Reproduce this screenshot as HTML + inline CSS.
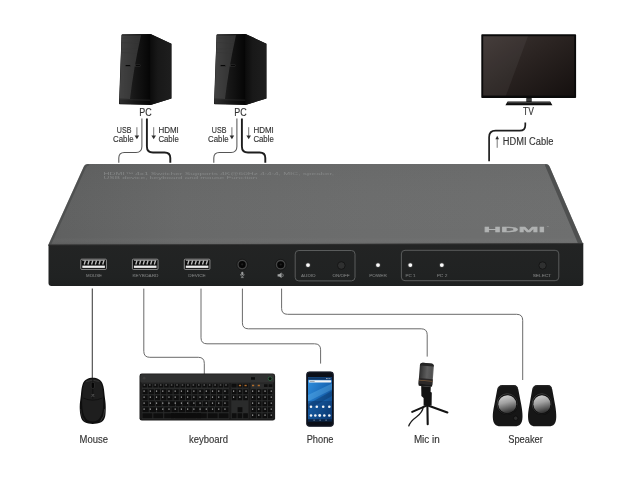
<!DOCTYPE html>
<html lang="en">
<head>
<meta charset="utf-8">
<title>HDMI 4x1 KVM Switcher connection diagram</title>
<style>
html,body{margin:0;padding:0;background:#fff;width:640px;height:480px;overflow:hidden}
svg{display:block;position:absolute;left:0;top:0;will-change:transform}
text{font-family:"Liberation Sans",sans-serif;}
.lbl{font-size:10.4px;fill:#343434;stroke:#343434;stroke-width:0.15px}
.tiny{font-size:4.3px;fill:#747676;stroke:#747676;stroke-width:0.12px}
.cab{fill:none;stroke:#555;stroke-width:0.95;stroke-linecap:butt;stroke-linejoin:round}
.cabh{fill:none;stroke:#1e1e1e;stroke-width:1.9;stroke-linejoin:round}
</style>
</head>
<body>
<svg width="640" height="480" viewBox="0 0 640 480">
<defs>
  <linearGradient id="gTop" x1="0" y1="0" x2="1" y2="0">
    <stop offset="0" stop-color="#5f6060"/>
    <stop offset="0.25" stop-color="#686969"/>
    <stop offset="0.6" stop-color="#6c6d6d"/>
    <stop offset="1" stop-color="#6e6f6f"/>
  </linearGradient>
  <linearGradient id="gTopV" x1="0" y1="0" x2="0" y2="1">
    <stop offset="0" stop-color="#000" stop-opacity="0.03"/>
    <stop offset="0.9" stop-color="#fff" stop-opacity="0.0"/>
    <stop offset="1" stop-color="#000" stop-opacity="0.12"/>
  </linearGradient>
  <linearGradient id="gFront" x1="0" y1="0" x2="0" y2="1">
    <stop offset="0" stop-color="#232424"/>
    <stop offset="0.8" stop-color="#202222"/>
    <stop offset="1" stop-color="#1e2020"/>
  </linearGradient>
  <linearGradient id="gPcF" x1="0" y1="0" x2="1" y2="0">
    <stop offset="0" stop-color="#2e2e2e"/>
    <stop offset="0.5" stop-color="#161616"/>
    <stop offset="1" stop-color="#050505"/>
  </linearGradient>
  <linearGradient id="gPcS" x1="0" y1="0" x2="1" y2="0">
    <stop offset="0" stop-color="#0c0c0c"/>
    <stop offset="0.35" stop-color="#181818"/>
    <stop offset="1" stop-color="#1e1e1e"/>
  </linearGradient>
  <linearGradient id="gTv" x1="0" y1="0" x2="1" y2="1">
    <stop offset="0" stop-color="#3b3331"/>
    <stop offset="0.45" stop-color="#2a2321"/>
    <stop offset="1" stop-color="#15100f"/>
  </linearGradient>
  <linearGradient id="gPhone" x1="0" y1="0" x2="1" y2="1">
    <stop offset="0" stop-color="#3192e2"/>
    <stop offset="0.45" stop-color="#1b6cba"/>
    <stop offset="1" stop-color="#0c3d78"/>
  </linearGradient>
  <linearGradient id="gCone" x1="0.35" y1="0" x2="0.6" y2="1">
    <stop offset="0" stop-color="#cfcfcf"/>
    <stop offset="0.4" stop-color="#a2a2a2"/>
    <stop offset="0.75" stop-color="#5c5c5c"/>
    <stop offset="1" stop-color="#2a2a2a"/>
  </linearGradient>
  <linearGradient id="gRing" x1="0" y1="0" x2="0.6" y2="1">
    <stop offset="0" stop-color="#5a5a5a"/>
    <stop offset="1" stop-color="#1c1c1c"/>
  </linearGradient>
  <linearGradient id="gMic" x1="0" y1="0" x2="1" y2="0">
    <stop offset="0" stop-color="#2e2e2e"/>
    <stop offset="0.55" stop-color="#5f5f5f"/>
    <stop offset="0.9" stop-color="#505050"/>
    <stop offset="1" stop-color="#6c6c6c"/>
  </linearGradient>

  <!-- PC tower symbol, origin = top-left of front face (121.6,34) -->
  <g id="pc">
    <path d="M2.6,0.8 Q2.7,0.2 3.4,0.2 L31.5,0 L52.4,9.7 L52.4,64.4 L31.5,71 L0.8,70.2 Q0,70.2 0,69.4 Z" fill="#0b0b0b"/>
    <path d="M2.6,1 L31.2,0.6 L31.2,70.6 L0.4,69.8 Z" fill="url(#gPcF)"/>
    <path d="M31.5,0 L52.4,9.7 L52.4,64.4 L31.5,71 Z" fill="url(#gPcS)"/>
    <path d="M2.8,1.5 L22,1.2 Q14.5,35 11,65 L0.5,64.6 Z" fill="#5a5a5a" opacity="0.45"/>
    <path d="M2.6,4.2 H21 M2.5,8.6 H20 M2.3,15.2 H18.6 M2.2,18.6 H18" stroke="#383838" stroke-width="0.45" fill="none"/>
    <rect x="6.3" y="30.9" width="5.2" height="1.5" fill="#040404" stroke="#4a4a4a" stroke-width="0.35"/>
    <rect x="16.7" y="30.9" width="5" height="1.5" fill="#040404" stroke="#4a4a4a" stroke-width="0.35"/>
    <path d="M0.6,65.5 L31.2,66.2" stroke="#333" stroke-width="0.6"/>
  </g>
  <!-- cable pair under a PC, origin at PC-label centre x=145 -->
  <g id="pccab">
    <path class="cab" d="M-3.1,118.6 V146.5 Q-3.1,152.5 -9,152.5 H-20.6 Q-26.2,152.5 -26.2,158 V162.8" style="stroke-width:1.05"/>
    <path class="cabh" d="M1.9,118.6 V146.5 Q1.9,152.5 8,152.5 H19.6 Q25.3,152.5 25.3,158 V162.8"/>
    <path d="M-8.1,127.2 V136" class="cab" style="stroke-width:0.8"/><path d="M-10.4,135.6 H-5.8 L-8.1,139.2 Z" fill="#2e2e2e"/>
    <path d="M8.7,127.2 V136" class="cab" style="stroke-width:0.8"/><path d="M6.4,135.6 H11 L8.7,139.2 Z" fill="#2e2e2e"/>
    <text class="lbl" x="-28.2" y="133" textLength="14.6" lengthAdjust="spacingAndGlyphs" style="font-size:8.8px">USB</text>
    <text class="lbl" x="-32" y="142.4" textLength="20.6" lengthAdjust="spacingAndGlyphs" style="font-size:8.8px">Cable</text>
    <text class="lbl" x="13.4" y="133" textLength="20.4" lengthAdjust="spacingAndGlyphs" style="font-size:8.8px">HDMI</text>
    <text class="lbl" x="13.4" y="142.4" textLength="20.4" lengthAdjust="spacingAndGlyphs" style="font-size:8.8px">Cable</text>
  </g>
  <!-- usb port symbol 26x11, origin top-left -->
  <g id="usb">
    <rect x="0" y="0.3" width="25.6" height="10.2" rx="0.9" fill="#0d0d0d" stroke="#a4a4a4" stroke-width="0.85"/>
    <rect x="1.5" y="6.7" width="22.6" height="2.3" fill="#ececec"/>
    <path d="M1.5,1.5 H24.1" stroke="#c8c8c8" stroke-width="0.7"/>
    <path d="M4.6,1.6 L3.4,5.6 M8.3,1.6 L7.1,5.6 M12,1.6 L10.8,5.6 M15.7,1.6 L14.5,5.6 M19.4,1.6 L18.2,5.6 M23.1,1.6 L21.9,5.6" stroke="#bdbdbd" stroke-width="1.35"/>
  </g>
</defs>

<rect x="0" y="0" width="640" height="480" fill="#ffffff"/>

<!-- ===== PCs ===== -->
<use href="#pc" x="119" y="34"/>
<use href="#pc" x="214" y="34"/>
<text class="lbl" x="139.2" y="115.7" textLength="12.4" lengthAdjust="spacingAndGlyphs">PC</text>
<text class="lbl" x="234.2" y="115.7" textLength="12.4" lengthAdjust="spacingAndGlyphs">PC</text>
<use href="#pccab" x="145" y="0"/>
<use href="#pccab" x="240" y="0"/>

<!-- ===== TV ===== -->
<g id="tv">
  <rect x="481.3" y="34.3" width="94.8" height="63.8" rx="0.8" fill="#0a0a0a"/>
  <rect x="483.2" y="36.2" width="91" height="59.4" fill="url(#gTv)"/>
  <path d="M483.2,36.2 H528 L506,95.6 H483.2 Z" fill="#fff" opacity="0.05"/>
  <rect x="526.3" y="98" width="5.4" height="4.4" fill="#2a2a2a"/>
  <path d="M526.3,99.4 H531.7 M526.3,100.8 H531.7" stroke="#555" stroke-width="0.5"/>
  <path d="M505.4,105.3 L507.6,101.5 H550.2 L552.4,105.3 Z" fill="#0c0c0c"/>
  <path d="M507.8,101.9 H550 L550.9,103.2 H507.1 Z" fill="#3c3c3c"/>
</g>
<text class="lbl" x="523" y="115.4" textLength="10.8" lengthAdjust="spacingAndGlyphs">TV</text>
<path class="cabh" d="M525.3,122.6 V125.2 Q525.3,130.7 519.8,130.7 H495.6 Q489.1,130.7 489.1,137.2 V161.2" style="stroke-width:1.7"/>
<path class="cab" d="M497.2,138.5 V147.8" style="stroke-width:0.8"/><path d="M495.4,139.2 H499 L497.2,135.8 Z" fill="#2a2a2a"/>
<text class="lbl" x="502.8" y="145.4" textLength="50.6" lengthAdjust="spacingAndGlyphs" style="font-size:10px">HDMI Cable</text>

<!-- ===== Switcher body ===== -->
<g id="device">
  <path d="M88,164 H545.6 Q548.6,164 549.8,167 L582.6,243 V246 H48.5 V244.5 L83.6,167 Q84.8,164 88,164 Z" fill="url(#gTop)"/>
  <path d="M88,164 H545.6 Q548.6,164 549.8,167 L582.6,243 V246 H48.5 V244.5 L83.6,167 Q84.8,164 88,164 Z" fill="url(#gTopV)"/>
  <path d="M545.6,164 Q548.6,164 549.8,167 L582.6,243 L578,243.4 L545,165.6 Z" fill="#3c3e3e" opacity="0.62"/>
  <path d="M88,164 Q84.8,164 83.6,167 L48.5,244.5 L51.2,244.5 L86,167.4 Q86.8,165.4 89.4,165.2 Z" fill="#3c3e3e" opacity="0.45"/>
  <path d="M48.5,244.7 L583.3,243.3 V283.3 Q583.3,285.9 580.6,285.9 H51.5 Q48.5,285.9 48.5,283 Z" fill="url(#gFront)"/>
  <path d="M48.5,245 L583.3,243.6" stroke="#363737" stroke-width="0.7"/>
  <text x="103.6" y="174.5" textLength="230.5" lengthAdjust="spacingAndGlyphs" style="font-size:4px;fill:#858787">HDMI™ 4x1 Switcher Supports 4K@60Hz 4:4:4, MIC, speaker,</text>
  <text x="103.6" y="179" textLength="153.5" lengthAdjust="spacingAndGlyphs" style="font-size:4px;fill:#858787">USB device, keyboard and mouse Function</text>
  <!-- HDMI logo -->
  <text x="483.6" y="232" textLength="61.6" lengthAdjust="spacingAndGlyphs" style="font-size:7.9px;font-weight:bold;fill:#b0b2b2;stroke:#b0b2b2;stroke-width:0.3px">HDMI</text>
  <text x="546.4" y="228.2" style="font-size:2.6px;fill:#a0a2a2">™</text>
</g>

<!-- ===== Front panel ===== -->
<g id="front">
  <use href="#usb" x="80.8" y="258.9"/>
  <use href="#usb" x="132.4" y="258.9"/>
  <use href="#usb" x="184.3" y="258.9"/>
  <text class="tiny" x="94" y="277.3" text-anchor="middle" textLength="15.8" lengthAdjust="spacingAndGlyphs">MOUSE</text>
  <text class="tiny" x="145.5" y="277.3" text-anchor="middle" textLength="26" lengthAdjust="spacingAndGlyphs">KEYBOARD</text>
  <text class="tiny" x="197" y="277.3" text-anchor="middle" textLength="17.5" lengthAdjust="spacingAndGlyphs">DEVICE</text>
  <!-- jacks -->
  <circle cx="242.2" cy="264.6" r="4.3" fill="#060606" stroke="#444545" stroke-width="1.5"/>
  <circle cx="242.2" cy="264.6" r="5.4" fill="none" stroke="#141414" stroke-width="0.7"/>
  <circle cx="242.2" cy="264.4" r="1.1" fill="#1d1d1d"/>
  <circle cx="280.7" cy="264.7" r="4.3" fill="#060606" stroke="#444545" stroke-width="1.5"/>
  <circle cx="280.7" cy="264.7" r="5.4" fill="none" stroke="#141414" stroke-width="0.7"/>
  <circle cx="280.7" cy="264.5" r="1.1" fill="#1d1d1d"/>
  <!-- mic icon -->
  <g fill="none" stroke="#9a9c9c" stroke-width="0.7">
    <rect x="241.2" y="271.8" width="2.2" height="3.4" rx="1.1" fill="#9a9c9c" stroke="none"/>
    <path d="M240.5,274 Q240.5,276.3 242.3,276.3 Q244.1,276.3 244.1,274 M242.3,276.3 V277.4 M240.9,277.6 H243.7"/>
  </g>
  <!-- speaker icon -->
  <g fill="#a2a4a4">
    <path d="M277.6,274.2 H279.2 L281.6,272.6 V278 L279.2,276.6 H277.6 Z"/>
    <path d="M282.6,273.7 Q283.9,275.3 282.6,276.9" fill="none" stroke="#a2a4a4" stroke-width="0.7"/>
  </g>
  <!-- audio box -->
  <rect x="295.2" y="250.5" width="59.8" height="30.4" rx="3.6" fill="none" stroke="#5a5c5c" stroke-width="1"/>
  <circle cx="308" cy="265.1" r="2.7" fill="#6a6a6a" opacity="0.35"/><circle cx="308" cy="265.1" r="1.95" fill="#fbfbfb"/>
  <circle cx="341.3" cy="265.5" r="3.8" fill="#2f3030" stroke="#141414" stroke-width="0.9"/>
  <text class="tiny" x="308.3" y="277.3" text-anchor="middle" textLength="14.5" lengthAdjust="spacingAndGlyphs">AUDIO</text>
  <text class="tiny" x="341" y="277.3" text-anchor="middle" textLength="17" lengthAdjust="spacingAndGlyphs">ON/OFF</text>
  <circle cx="378" cy="265.1" r="2.7" fill="#6a6a6a" opacity="0.35"/><circle cx="378" cy="265.1" r="1.95" fill="#fbfbfb"/>
  <text class="tiny" x="378" y="277.3" text-anchor="middle" textLength="17.6" lengthAdjust="spacingAndGlyphs">POWER</text>
  <!-- PC select box -->
  <rect x="401.4" y="250.3" width="157.4" height="30.4" rx="3.6" fill="none" stroke="#5a5c5c" stroke-width="1"/>
  <circle cx="410.3" cy="265.1" r="2.7" fill="#6a6a6a" opacity="0.35"/><circle cx="410.3" cy="265.1" r="1.95" fill="#fbfbfb"/>
  <circle cx="441.8" cy="265.1" r="2.7" fill="#6a6a6a" opacity="0.35"/><circle cx="441.8" cy="265.1" r="1.95" fill="#fbfbfb"/>
  <text class="tiny" x="410.5" y="277.3" text-anchor="middle" textLength="10" lengthAdjust="spacingAndGlyphs">PC 1</text>
  <text class="tiny" x="442" y="277.3" text-anchor="middle" textLength="10.6" lengthAdjust="spacingAndGlyphs">PC 2</text>
  <circle cx="542.6" cy="265.5" r="3.7" fill="#2f3030" stroke="#141414" stroke-width="0.9"/>
  <text class="tiny" x="542" y="277.3" text-anchor="middle" textLength="18.6" lengthAdjust="spacingAndGlyphs">SELECT</text>
</g>

<!-- ===== lower cables ===== -->
<g id="lowcab" style="stroke:#6a6a6a;stroke-width:1">
  <path class="cab" style="stroke:#444;stroke-width:1.1" d="M92.3,288.6 V378"/>
  <path class="cab" style="stroke:inherit;stroke-width:inherit" d="M143.8,288.6 V351.3 Q143.8,357.3 149.8,357.3 H198.3 Q204.3,357.3 204.3,363.3 V374"/>
  <path class="cab" style="stroke:inherit;stroke-width:inherit" d="M201,288.6 V337.8 Q201,343.8 207,343.8 H314.6 Q320.6,343.8 320.6,349.8 V363.6"/>
  <path class="cab" style="stroke:inherit;stroke-width:inherit" d="M242.4,288.6 V322.8 Q242.4,328.8 248.4,328.8 H421.2 Q427.2,328.8 427.2,334.8 V356.6"/>
  <path class="cab" style="stroke:inherit;stroke-width:inherit" d="M281.6,288.6 V308.3 Q281.6,314.3 287.6,314.3 H516.7 Q522.7,314.3 522.7,320.3 V380"/>
</g>

<g id="mouse">
  <path d="M92.7,377.8 C97,377.8 101,379.6 102.6,383.7 C104,387.5 104.2,391 104.6,395.3 C105.1,400 105.8,403 105.75,407 C105.7,410.5 105.7,413.5 105.2,416.3 C104.5,419.5 103.2,421 101.1,422.2 C98.5,423.5 95.5,423.9 92.7,423.9 C89.9,423.9 87,423.5 84.75,422.2 C82.6,421 81.3,419.5 80.7,416.3 C80.1,413.5 79.7,410.5 79.7,407 C79.7,403 80.4,400 80.9,395.3 C81.3,391 81.5,387.5 82.8,383.7 C84.4,379.6 88.4,377.8 92.7,377.8 Z" fill="#0e0e0e"/>
  <path d="M92.7,378.8 C96.6,378.8 100,380.4 101.4,384 C102.6,387.5 102.8,391 103.1,395.3 C103.4,400 103.4,404 103,408 C102.4,414 100,421.6 92.7,421.6 C85.4,421.6 83,414 82.4,408 C82,404 82,400 82.3,395.3 C82.6,391 82.8,387.5 84,384 C85.4,380.4 88.8,378.8 92.7,378.8 Z" fill="#1e1e1e"/>
  <path d="M86,381.6 Q92.7,378.6 99.4,381.6" stroke="#3c3c3c" stroke-width="0.7" fill="none"/>
  <path d="M92.8,379 V398.5 M83.2,398 Q92.7,402.4 102.3,398" stroke="#080808" stroke-width="0.6" fill="none"/>
  <rect x="91.2" y="382.2" width="3.3" height="6.4" rx="1.6" fill="#050505" stroke="#3a3a3a" stroke-width="0.55"/>
  <path d="M91.7,394 L92.9,395.3 L94.1,394 M91.7,396.8 L92.9,395.5 L94.1,396.8" stroke="#8a8a8a" stroke-width="0.5" fill="none"/>
  <path d="M104.8,409 Q104.6,417 100.4,421.4" stroke="#444" stroke-width="0.8" fill="none"/>
  <path d="M80.6,409 Q80.8,417 85,421.4" stroke="#2c2c2c" stroke-width="0.8" fill="none"/>
</g>
<g id="kbd">
<rect x="139.5" y="373.6" width="135.6" height="47" rx="2.4" fill="#1b1b1b"/>
<rect x="140.3" y="374.3" width="134" height="8.4" rx="1.8" fill="#303131"/>
<rect x="141.8" y="383.2" width="87.4" height="36" fill="#2b2c2c"/>
<rect x="231.3" y="383.2" width="17.2" height="36" fill="#2a2b2b"/>
<rect x="250.6" y="383.2" width="22.6" height="36" fill="#2b2c2c"/>
<path d="M142.4,383.8h4.5v3.6h-4.5zM147.8,383.8h4.5v3.6h-4.5zM153.3,383.8h4.5v3.6h-4.5zM158.7,383.8h4.5v3.6h-4.5zM164.2,383.8h4.5v3.6h-4.5zM169.6,383.8h4.5v3.6h-4.5zM175.1,383.8h4.5v3.6h-4.5zM180.5,383.8h4.5v3.6h-4.5zM185.9,383.8h4.5v3.6h-4.5zM191.4,383.8h4.5v3.6h-4.5zM196.8,383.8h4.5v3.6h-4.5zM202.3,383.8h4.5v3.6h-4.5zM207.7,383.8h4.5v3.6h-4.5zM213.2,383.8h4.5v3.6h-4.5zM218.6,383.8h4.5v3.6h-4.5zM224.1,383.8h4.5v3.6h-4.5z" fill="#0e0e0e"/>
<path d="M142.4,389.2h5.3v5.0h-5.3zM148.6,389.2h5.3v5.0h-5.3zM154.8,389.2h5.3v5.0h-5.3zM161.1,389.2h5.3v5.0h-5.3zM167.3,389.2h5.3v5.0h-5.3zM173.5,389.2h5.3v5.0h-5.3zM179.7,389.2h5.3v5.0h-5.3zM185.9,389.2h5.3v5.0h-5.3zM192.2,389.2h5.3v5.0h-5.3zM198.4,389.2h5.3v5.0h-5.3zM204.6,389.2h5.3v5.0h-5.3zM210.8,389.2h5.3v5.0h-5.3zM217.1,389.2h5.3v5.0h-5.3zM223.3,389.2h5.3v5.0h-5.3z" fill="#0e0e0e"/>
<path d="M142.4,395.2h5.3v5.0h-5.3zM148.6,395.2h5.3v5.0h-5.3zM154.8,395.2h5.3v5.0h-5.3zM161.1,395.2h5.3v5.0h-5.3zM167.3,395.2h5.3v5.0h-5.3zM173.5,395.2h5.3v5.0h-5.3zM179.7,395.2h5.3v5.0h-5.3zM185.9,395.2h5.3v5.0h-5.3zM192.2,395.2h5.3v5.0h-5.3zM198.4,395.2h5.3v5.0h-5.3zM204.6,395.2h5.3v5.0h-5.3zM210.8,395.2h5.3v5.0h-5.3zM217.1,395.2h5.3v5.0h-5.3zM223.3,395.2h5.3v5.0h-5.3z" fill="#0e0e0e"/>
<path d="M142.4,401.2h5.8v5.0h-5.8zM149.1,401.2h5.8v5.0h-5.8zM155.8,401.2h5.8v5.0h-5.8zM162.5,401.2h5.8v5.0h-5.8zM169.2,401.2h5.8v5.0h-5.8zM175.9,401.2h5.8v5.0h-5.8zM182.6,401.2h5.8v5.0h-5.8zM189.3,401.2h5.8v5.0h-5.8zM196.0,401.2h5.8v5.0h-5.8zM202.7,401.2h5.8v5.0h-5.8zM209.4,401.2h5.8v5.0h-5.8zM216.1,401.2h5.8v5.0h-5.8zM222.8,401.2h5.8v5.0h-5.8z" fill="#0e0e0e"/>
<path d="M142.4,407.2h6.4v5.0h-6.4zM149.7,407.2h6.4v5.0h-6.4zM156.9,407.2h6.4v5.0h-6.4zM164.2,407.2h6.4v5.0h-6.4zM171.4,407.2h6.4v5.0h-6.4zM178.7,407.2h6.4v5.0h-6.4zM185.9,407.2h6.4v5.0h-6.4zM193.2,407.2h6.4v5.0h-6.4zM200.5,407.2h6.4v5.0h-6.4zM207.7,407.2h6.4v5.0h-6.4zM215.0,407.2h6.4v5.0h-6.4zM222.2,407.2h6.4v5.0h-6.4z" fill="#0e0e0e"/>
<path d="M142.4,413.2h10.0v5.0h-10.0zM153.3,413.2h10.0v5.0h-10.0zM164.2,413.2h10.0v5.0h-10.0zM175.1,413.2h10.0v5.0h-10.0zM185.9,413.2h10.0v5.0h-10.0zM196.8,413.2h10.0v5.0h-10.0zM207.7,413.2h10.0v5.0h-10.0zM218.6,413.2h10.0v5.0h-10.0z" fill="#0e0e0e"/>
<rect x="171" y="413.2" width="30" height="5" fill="#0c0c0c"/>
<path d="M231.9,383.8h4.7v3.6h-4.7zM237.5,383.8h4.7v3.6h-4.7zM243.2,383.8h4.7v3.6h-4.7z" fill="#0e0e0e"/>
<path d="M231.9,389.2h4.7v5.0h-4.7zM237.5,389.2h4.7v5.0h-4.7zM243.2,389.2h4.7v5.0h-4.7z" fill="#0e0e0e"/>
<path d="M231.9,395.2h4.7v5.0h-4.7zM237.5,395.2h4.7v5.0h-4.7zM243.2,395.2h4.7v5.0h-4.7z" fill="#0e0e0e"/>
<rect x="237.6" y="407.2" width="4.8" height="5" fill="#0e0e0e"/>
<path d="M231.9,413.2h4.7v5.0h-4.7zM237.5,413.2h4.7v5.0h-4.7zM243.2,413.2h4.7v5.0h-4.7z" fill="#0e0e0e"/>
<path d="M251.2,389.2h4.7v5.0h-4.7zM256.8,389.2h4.7v5.0h-4.7zM262.4,389.2h4.7v5.0h-4.7zM267.9,389.2h4.7v5.0h-4.7z" fill="#0e0e0e"/>
<path d="M251.2,395.2h4.7v5.0h-4.7zM256.8,395.2h4.7v5.0h-4.7zM262.4,395.2h4.7v5.0h-4.7zM267.9,395.2h4.7v5.0h-4.7z" fill="#0e0e0e"/>
<path d="M251.2,401.2h4.7v5.0h-4.7zM256.8,401.2h4.7v5.0h-4.7zM262.4,401.2h4.7v5.0h-4.7zM267.9,401.2h4.7v5.0h-4.7z" fill="#0e0e0e"/>
<path d="M251.2,407.2h4.7v5.0h-4.7zM256.8,407.2h4.7v5.0h-4.7zM262.4,407.2h4.7v5.0h-4.7zM267.9,407.2h4.7v5.0h-4.7z" fill="#0e0e0e"/>
<path d="M251.2,413.2h4.7v5.0h-4.7zM256.8,413.2h4.7v5.0h-4.7zM262.4,413.2h4.7v5.0h-4.7zM267.9,413.2h4.7v5.0h-4.7z" fill="#0e0e0e"/>
<path d="M143.5,391.2h84 M143.5,397.2h84 M143.5,403.2h84 M143.5,409.2h84 M252,391.2h20 M252,397.2h20 M252,403.2h20 M252,409.2h20 M252,415.2h20 M233,391.2h14 M233,397.2h14" stroke="#ececec" stroke-width="1.2" stroke-dasharray="1.2 5.02" opacity="0.72" fill="none"/>
<path d="M143.6,385h84" stroke="#d8d8d8" stroke-width="0.9" stroke-dasharray="1.6 3.84" opacity="0.6" fill="none"/><path d="M231.6,384.2h3.6v2.8h-3.6z M264,384.2h3.6v2.8h-3.6z M268.6,384.2h3.8v2.8h-3.8z" fill="#0e0e0e"/>
<path d="M238.9,385.6h2.2 M244.5,385.6h2.2 M252,385.6h2.2 M257.7,385.6h2.2" stroke="#b06c2c" stroke-width="1.5"/>
<rect x="251" y="377.2" width="4" height="2.5" fill="#0c0c0c"/>
<circle cx="270.1" cy="378.7" r="1.9" fill="#0c0c0c" stroke="#2f7448" stroke-width="0.7"/>
<circle cx="144.2" cy="378.2" r="1.4" fill="#3c3c3c"/>
</g>
<g id="phone">
  <rect x="306.2" y="371.6" width="27.6" height="55.1" rx="3.4" fill="#0b0f18"/>
  <rect x="306.7" y="372.1" width="26.6" height="54.1" rx="3" fill="none" stroke="#2a3140" stroke-width="0.5"/>
  <rect x="308" y="377.3" width="24" height="43.9" fill="url(#gPhone)"/>
  <path d="M308,395 L332,383.6 V389.6 L308,401.6 Z" fill="#6cc0f4" opacity="0.33"/>
  <path d="M308,404 L332,391 V396 L308,409.5 Z" fill="#08305f" opacity="0.4"/>
  <rect x="308" y="401" width="24" height="20.2" fill="#0a2c5e" opacity="0.35"/>
  <rect x="308" y="377.3" width="24" height="2.5" fill="#0f3564"/>
  <path d="M326,378.6h4.5" stroke="#cfd8e4" stroke-width="0.8" stroke-dasharray="0.9 0.5"/>
  <rect x="308.9" y="380.3" width="22.3" height="2.2" rx="0.4" fill="#f3f4f5"/>
  <rect x="309.6" y="380.9" width="5" height="1" fill="#9aa3ad"/>
  <g fill="#f2f5f8"><circle cx="311" cy="406.7" r="1.3"/><circle cx="316.8" cy="406.7" r="1.3"/><circle cx="323.2" cy="406.7" r="1.3"/><circle cx="329.3" cy="406.7" r="1.3"/></g>
  <g fill="#f2f5f8"><circle cx="311" cy="415.5" r="1.3"/><circle cx="315.3" cy="415.5" r="1.3"/><circle cx="319.7" cy="415.5" r="1.4"/><circle cx="324.3" cy="415.5" r="1.3"/><circle cx="329.3" cy="415.5" r="1.3"/></g>
  <rect x="308" y="419.2" width="24" height="2" fill="#0a2446"/>
  <path d="M313.5,420.2h1.2 M319.5,420.2h1.2 M325.5,420.2h1.2" stroke="#c8d2de" stroke-width="0.7"/>
</g>
<g id="mic">
  <path d="M408.6,426.4 Q410,421.6 416.4,417 Q422.6,412.4 423.4,406.4" stroke="#1c1c1c" stroke-width="1.3" fill="none"/>
  <path d="M427.2,405.4 L412.2,411.9" stroke="#131313" stroke-width="2.1" stroke-linecap="round"/>
  <path d="M428,405.4 L447.4,412.4" stroke="#131313" stroke-width="2.1" stroke-linecap="round"/>
  <path d="M427.4,405 L427.7,424.2" stroke="#131313" stroke-width="2.1" stroke-linecap="round"/>
  <path d="M421.2,386 L430.8,386.4 L430.6,392 L431.8,392.4 L431.6,405.4 L423.6,405.8 L423.6,398 L421.4,396 Z" fill="#121212"/>
  <g transform="rotate(4.5 426 376)">
    <rect x="419.1" y="363.1" width="14" height="23.2" rx="3" fill="url(#gMic)"/>
    <path d="M419.1,366 Q419.1,363.1 422.1,363.1 H430.1 Q433.1,363.1 433.1,366 Z" fill="#262626"/>
    <rect x="419.2" y="378.6" width="13.8" height="6" fill="#2b2828"/>
    <rect x="419.2" y="380.4" width="13.8" height="0.7" fill="#7a5a3a"/>
    <rect x="419.2" y="384.2" width="13.8" height="2" rx="1" fill="#181818"/>
  </g>
</g>
<g id="spk">
  <g transform="translate(507.6 0)">
    <path d="M-5.1,385 H6.2 C9,385 10.2,386.6 10.7,389.5 L13.7,405 C14.6,410 15,414 14.9,417 C14.7,424 11.9,426.3 7.4,426.3 H-7.3 C-11.8,426.3 -14.6,424 -14.8,417 C-14.9,414 -14.4,410 -13.3,405 L-10.4,389.5 C-9.8,386.6 -8,385 -5.1,385 Z" fill="#161616"/>
    <path d="M-9.6,389 C-9,386.4 -7.6,385.7 -5.1,385.7 H6.2 C8.6,385.7 9.6,386.8 10,389" stroke="#3d3d3d" stroke-width="0.6" fill="none"/>
    <circle cx="-0.3" cy="404" r="10.9" fill="#0b0b0b"/>
    <circle cx="-0.3" cy="404" r="10.3" fill="none" stroke="url(#gRing)" stroke-width="0.8"/>
    <circle cx="-0.3" cy="404.2" r="9" fill="url(#gCone)"/>
    <circle cx="8.1" cy="418.2" r="2.2" fill="#2c2c2c" stroke="#080808" stroke-width="0.7"/>
  </g>
  <g transform="translate(542.1 0) scale(0.95 1)">
    <path d="M-5.1,385 H6.2 C9,385 10.2,386.6 10.7,389.5 L13.7,405 C14.6,410 15,414 14.9,417 C14.7,424 11.9,426.3 7.4,426.3 H-7.3 C-11.8,426.3 -14.6,424 -14.8,417 C-14.9,414 -14.4,410 -13.3,405 L-10.4,389.5 C-9.8,386.6 -8,385 -5.1,385 Z" fill="#161616"/>
    <path d="M-9.6,389 C-9,386.4 -7.6,385.7 -5.1,385.7 H6.2 C8.6,385.7 9.6,386.8 10,389" stroke="#3d3d3d" stroke-width="0.6" fill="none"/>
    <circle cx="-0.2" cy="404" r="10.9" fill="#0b0b0b"/>
    <circle cx="-0.2" cy="404" r="10.3" fill="none" stroke="url(#gRing)" stroke-width="0.8"/>
    <circle cx="-0.2" cy="404.2" r="9" fill="url(#gCone)"/>
  </g>
</g>

<!-- ===== labels ===== -->
<text class="lbl" x="79.6" y="442.5" textLength="28.4" lengthAdjust="spacingAndGlyphs">Mouse</text>
<text class="lbl" x="189" y="442.5" textLength="39" lengthAdjust="spacingAndGlyphs">keyboard</text>
<text class="lbl" x="306.7" y="442.5" textLength="26.8" lengthAdjust="spacingAndGlyphs">Phone</text>
<text class="lbl" x="413.9" y="442.5" textLength="25.8" lengthAdjust="spacingAndGlyphs">Mic in</text>
<text class="lbl" x="508.2" y="442.5" textLength="34.6" lengthAdjust="spacingAndGlyphs">Speaker</text>
</svg>
</body>
</html>
